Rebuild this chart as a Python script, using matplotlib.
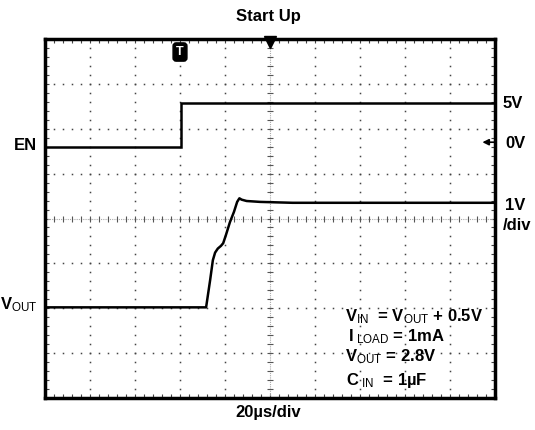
#!/usr/bin/env python3
"""Start-up scope capture: EN step and VOUT rise."""

import numpy as np
import matplotlib
matplotlib.use("Agg")
import matplotlib.pyplot as plt

plt.rcParams["font.family"] = ["Liberation Sans", "DejaVu Sans"]
plt.rcParams["mathtext.fontset"] = "custom"
plt.rcParams["mathtext.rm"] = "Liberation Sans"
plt.rcParams["mathtext.it"] = "Liberation Sans"
plt.rcParams["mathtext.bf"] = "Liberation Sans:bold"

# traces, in screen divisions (10 x 8)
en_x = [0.0, 3.02, 3.02, 10.0]
en_y = [5.60, 5.60, 6.58, 6.58]

vout_x = [0.0, 3.58, 3.67, 3.73, 3.78, 3.84, 3.91, 3.96, 4.02, 4.11, 4.2, 4.27,
          4.32, 4.37, 4.48, 4.78, 5.5, 10.0]
vout_y = [2.02, 2.02, 2.63, 3.07, 3.24, 3.33, 3.39, 3.45, 3.63, 3.92, 4.15, 4.37,
          4.45, 4.42, 4.39, 4.37, 4.35, 4.35]

trigger_x = 3.0
en_zero_y = 5.70

conditions = [r"V$_{\mathrm{IN}}$  = V$_{\mathrm{OUT}}$ + 0.5V",
              r"I$_{\ \mathrm{LOAD}}$ = 1mA",
              r"V$_{\mathrm{OUT}}$ = 2.8V",
              r"C$_{\ \mathrm{IN}}$  = 1µF"]

W, H = 535, 430
fig = plt.figure(figsize=(W / 100, H / 100), dpi=100)
ax = fig.add_axes([45 / W, 1 - 398 / H, 450 / W, 359 / H])
ax.set_xlim(0, 10)
ax.set_ylim(0, 8)

# frame with inward minor ticks
for s in ax.spines.values():
    s.set_linewidth(2.5)
ax.set_xticks(np.arange(0, 10.01, 0.2))
ax.set_yticks(np.arange(0, 8.01, 0.2))
ax.tick_params(direction="in", length=3, width=0.8, color="#444444",
               top=True, right=True, labelbottom=False, labelleft=False)

# dotted graticule
sub = np.arange(0, 10.01, 0.2)
subv = np.arange(0, 8.01, 0.2)
for gx in range(1, 10):
    if gx != 5:
        ax.plot(np.full_like(subv, gx), subv, ls="none", marker="s",
                ms=1.1, color="#444444", mew=0)
for gy in range(1, 8):
    if gy != 4:
        ax.plot(sub, np.full_like(sub, gy), ls="none", marker="s",
                ms=1.1, color="#444444", mew=0)

# centre cross with small ticks
ax.axhline(4, color="#aaaaaa", lw=0.8, ls=(0, (1, 1)))
ax.axvline(5, color="#aaaaaa", lw=0.8, ls=(0, (1, 1)))
ax.plot(sub, np.full_like(sub, 4), ls="none", marker="|", ms=4,
        color="#555555", mew=0.8)
ax.plot(np.full_like(subv, 5), subv, ls="none", marker="_", ms=4,
        color="#555555", mew=0.8)

# traces
ax.plot(en_x, en_y, color="black", lw=1.8, solid_joinstyle="miter")
ax.plot(vout_x, vout_y, color="black", lw=1.8)

# markers
ax.plot([5.0], [7.93], marker="v", ms=8, color="black", clip_on=False)
ax.text(trigger_x, 7.71, "T", ha="center", va="center", color="white",
        fontsize=9, fontweight="bold",
        bbox=dict(boxstyle="round,pad=0.25", fc="black", ec="black"))
ax.annotate("", xy=(9.72, en_zero_y), xytext=(9.98, en_zero_y),
            arrowprops=dict(arrowstyle="-|>", color="black", lw=1.2,
                            mutation_scale=9, shrinkA=0, shrinkB=0))

def ftext(x, y, s, **kw):
    fig.text(x / W, 1 - y / H, s, fontweight="bold", **kw)

FS = 12
ftext(268, 17, "Start Up", ha="center", va="center", fontsize=FS)
ftext(268, 413, "20µs/div", ha="center", va="center", fontsize=FS)
ftext(37, 146, "EN", ha="right", va="center", fontsize=FS)
ftext(38, 305, r"V$_{\mathrm{OUT}}$", ha="right", va="center", fontsize=FS)
ftext(503, 103, "5V", ha="left", va="center", fontsize=FS)
ftext(505, 143, "0V", ha="left", va="center", fontsize=FS)
ftext(505, 206, "1V", ha="left", va="center", fontsize=FS)
ftext(503, 225, "/div", ha="left", va="center", fontsize=FS)

for (yy, xx), line in zip([(317, 345), (337, 348), (357, 345), (380, 346)],
                          conditions):
    ftext(xx, yy, line, ha="left", va="center", fontsize=FS)

fig.savefig("out.png", dpi=100)
